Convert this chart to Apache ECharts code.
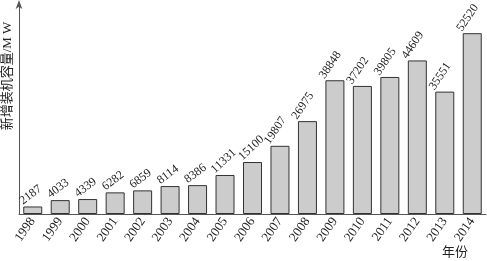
<!DOCTYPE html>
<html><head><meta charset="utf-8">
<script src="https://cdn.jsdelivr.net/npm/echarts@6/dist/echarts.min.js"></script>
<style>html,body{margin:0;padding:0;background:#fff}#c{width:487px;height:261px}</style>
</head><body><div id="c"></div>
<script>
const years = ['1998','1999','2000','2001','2002','2003','2004','2005','2006','2007','2008','2009','2010','2011','2012','2013','2014'];
const capacity = [2187,4033,4339,6282,6859,8114,8386,11331,15100,19807,26975,38848,37202,39805,44609,35551,52520];
const yName = '新增装机容量/M W';
const xName = '年份';

const FONT = '"Liberation Serif","Noto Sans CJK SC",serif';
const BAR_W = 19;
function labelAngle(i) { return i < 7 ? 37 : (i < 9 ? 43 : 56); }
const chart = echarts.init(document.getElementById('c'));
chart.setOption({
  animation: false,
  grid: {left: 19, right: 1, top: 4, bottom: 47},
  xAxis: {
    type: 'category', data: years,
    axisLine: {lineStyle: {color: '#555', width: 1}},
    axisTick: {show: false},
    axisLabel: {rotate: 55, color: '#222', fontFamily: FONT, fontSize: 13, margin: 5, interval: 0}
  },
  yAxis: {
    type: 'value', min: 0, max: 61000,
    axisLine: {show: true, lineStyle: {color: '#555', width: 1}, symbol: ['none','arrow'], symbolSize: [5, 9], symbolOffset: [0, 4]},
    axisTick: {show: false}, axisLabel: {show: false}, splitLine: {show: false}
  },
  series: [{
    type: 'bar', barWidth: BAR_W,
    data: capacity,
    itemStyle: {color: '#cccccc', borderColor: '#333', borderWidth: 1}
  }]
});

const graphics = [
  {type: 'text', x: 8, y: 76, rotation: Math.PI / 2, style: {text: yName, font: '13px ' + FONT, fill: '#222', align: 'center', verticalAlign: 'middle'}},
  {type: 'text', x: 455, y: 253, style: {text: xName, font: '13px ' + FONT, fill: '#222', align: 'center', verticalAlign: 'middle'}}
];
capacity.forEach(function (v, i) {
  const p = chart.convertToPixel({seriesIndex: 0}, [i, v]);
  graphics.push({
    type: 'text', silent: true, z: 10,
    x: p[0] - BAR_W / 2 + 1.5, y: p[1] + 0.5,
    rotation: labelAngle(i) * Math.PI / 180,
    style: {text: String(v), font: '12px ' + FONT, fill: '#222', align: 'left', verticalAlign: 'bottom'}
  });
});
chart.setOption({graphic: graphics});
</script></body></html>
